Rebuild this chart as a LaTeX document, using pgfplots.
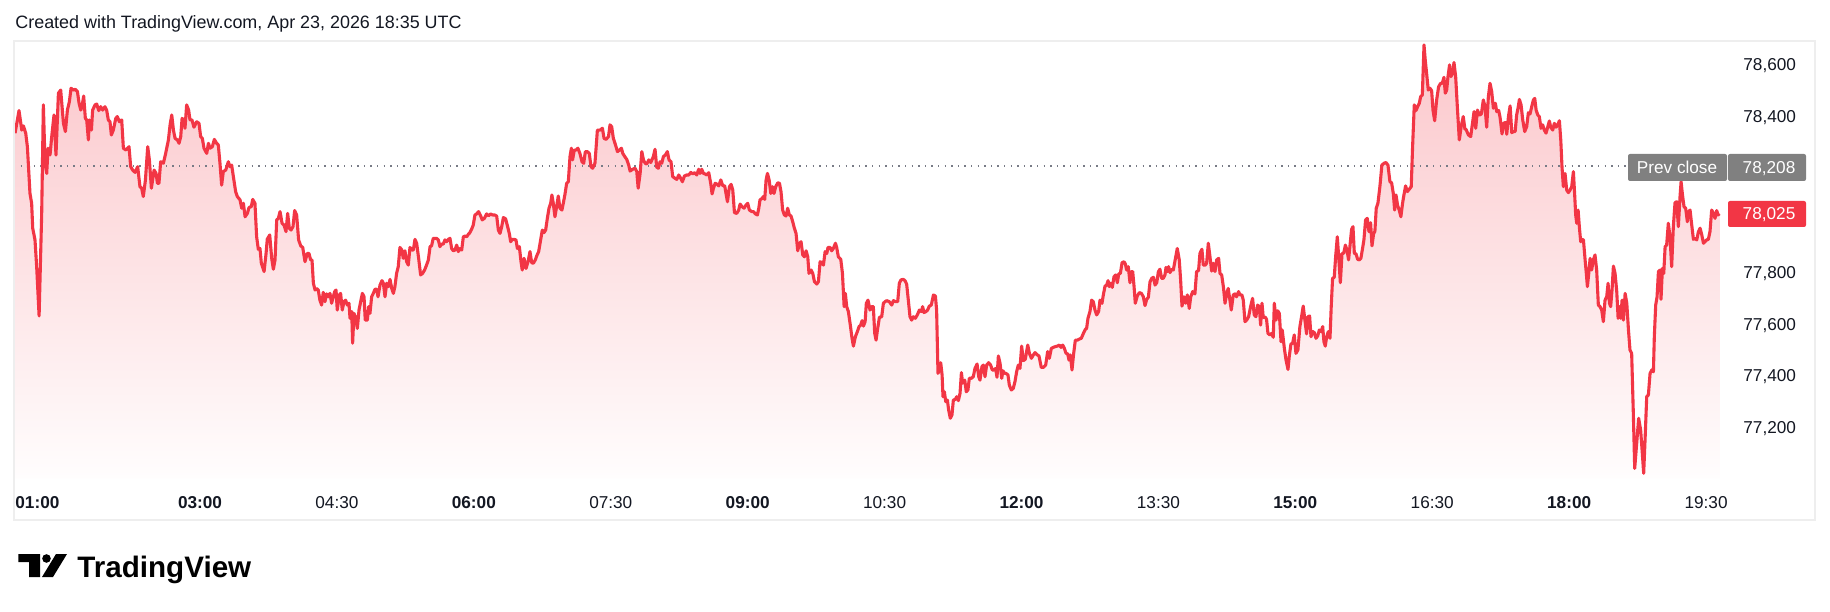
\documentclass[border=0pt]{standalone}
\usepackage{pgfplots}
\pgfplotsset{compat=1.18}
\usepackage{pgfplotstable}
\usepackage{fontspec}
\setmainfont{Liberation Sans}
\definecolor{tvred}{HTML}{F23645}
\definecolor{tvtext}{HTML}{131722}
\definecolor{tvframe}{HTML}{EEEEEE}
\definecolor{tvgray}{HTML}{808080}
\definecolor{tvdot}{HTML}{787B86}

\pgfplotstableread[row sep=\\]{
m v\\
58.4 78335\\ 61.0 78422\\ 62.8 78347\\ 63.9 78363\\ 65.4 78335\\ 66.5 78283\\ 68.2 78103\\ 69.3 78065\\ 70.0 77969\\ 71.5 77924\\
72.6 77821\\ 74.2 77631\\ 75.9 78026\\ 77.0 78444\\ 78.1 78219\\ 79.2 78180\\ 80.1 78277\\ 81.4 78251\\ 82.5 78322\\ 84.0 78405\\
85.3 78251\\ 86.9 78489\\ 88.4 78501\\ 90.2 78373\\ 91.5 78341\\ 92.8 78424\\ 94.1 78456\\ 95.2 78508\\ 96.7 78501\\ 98.0 78504\\
99.4 78495\\ 100.5 78450\\ 101.6 78424\\ 102.4 78437\\ 103.5 78478\\ 104.6 78392\\ 105.5 78386\\ 106.6 78309\\ 107.2 78386\\ 108.6 78347\\
109.4 78424\\ 111.0 78444\\ 112.1 78447\\ 113.4 78422\\ 114.7 78437\\ 116.0 78424\\ 117.5 78437\\ 118.6 78424\\ 119.7 78386\\ 120.8 78379\\
121.7 78328\\ 123.0 78347\\ 124.6 78392\\ 125.6 78399\\ 127.0 78379\\ 128.5 78386\\ 129.6 78277\\ 131.3 78270\\ 133.3 78283\\ 134.4 78206\\
135.7 78193\\ 137.3 78184\\ 139.0 78206\\ 140.5 78129\\ 141.6 78123\\ 142.7 78091\\ 144.1 78155\\ 145.6 78283\\ 146.7 78232\\ 148.0 78123\\
149.8 78193\\ 151.1 78180\\ 152.0 78142\\ 153.0 78142\\ 154.1 78225\\ 155.9 78219\\ 157.4 78257\\ 159.2 78309\\ 160.3 78367\\ 161.4 78405\\
162.5 78347\\ 163.6 78315\\ 165.1 78309\\ 166.2 78296\\ 167.3 78322\\ 168.2 78392\\ 169.3 78386\\ 170.1 78354\\ 171.2 78444\\ 172.5 78424\\
173.4 78386\\ 174.7 78386\\ 176.0 78358\\ 177.8 78379\\ 179.3 78373\\ 180.4 78322\\ 181.5 78315\\ 182.6 78277\\ 184.4 78257\\ 185.5 78296\\
186.6 78277\\ 188.1 78283\\ 189.4 78311\\ 190.9 78296\\ 192.0 78290\\ 193.1 78219\\ 194.2 78135\\ 195.3 78187\\ 196.9 78193\\ 198.6 78225\\
199.7 78206\\ 200.8 78212\\ 201.9 78168\\ 203.4 78110\\ 204.5 78091\\ 206.3 78078\\ 207.4 78046\\ 208.5 78065\\ 209.6 78013\\ 211.1 78026\\
212.2 78049\\ 213.7 78052\\ 214.6 78080\\ 216.1 78065\\ 217.2 77936\\ 218.3 77888\\ 219.4 77891\\ 220.3 77834\\ 222.1 77802\\ 223.4 77872\\
224.2 77927\\ 225.8 77943\\ 227.1 77853\\ 228.2 77811\\ 229.3 77847\\ 230.4 78001\\ 231.5 78007\\ 232.6 78033\\ 233.9 77988\\ 235.2 77981\\
236.5 77956\\ 237.6 78026\\ 238.7 77969\\ 239.8 77962\\ 241.1 77975\\ 242.2 78037\\ 243.5 78020\\ 244.8 77924\\ 246.2 77901\\ 247.5 77895\\
249.0 77840\\ 250.5 77872\\ 251.6 77872\\ 252.7 77847\\ 253.6 77847\\ 254.5 77757\\ 255.6 77731\\ 256.7 77737\\ 257.7 77731\\ 258.8 77692\\
259.9 77673\\ 261.0 77722\\ 262.1 77686\\ 263.2 77716\\ 264.3 77705\\ 265.4 77718\\ 266.5 77680\\ 267.6 77705\\ 268.5 77725\\ 269.4 77731\\
270.2 77654\\ 271.6 77712\\ 272.4 77718\\ 273.5 77654\\ 274.6 77686\\ 275.7 77692\\ 276.8 77673\\ 277.9 77680\\ 278.6 77622\\ 279.7 77648\\
280.3 77526\\ 281.2 77641\\ 282.1 77628\\ 283.4 77583\\ 284.5 77654\\ 285.6 77686\\ 286.7 77718\\ 287.8 77705\\ 288.6 77615\\ 290.0 77615\\
290.8 77667\\ 291.7 77641\\ 292.8 77705\\ 293.9 77718\\ 295.0 77734\\ 296.1 77734\\ 297.0 77705\\ 298.3 77750\\ 299.6 77767\\ 300.5 77757\\
301.6 77705\\ 302.7 77757\\ 303.8 77744\\ 304.9 77772\\ 306.0 77737\\ 307.1 77718\\ 308.1 77744\\ 309.2 77795\\ 310.3 77821\\ 311.4 77895\\
312.7 77885\\ 313.6 77853\\ 314.7 77882\\ 315.8 77840\\ 316.9 77827\\ 318.0 77895\\ 319.3 77885\\ 320.2 77885\\ 321.3 77926\\ 322.4 77911\\
323.7 77853\\ 325.0 77789\\ 326.3 77795\\ 327.6 77808\\ 328.9 77827\\ 330.1 77847\\ 331.2 77898\\ 332.2 77901\\ 333.3 77930\\ 334.4 77930\\
335.5 77930\\ 336.6 77924\\ 337.7 77898\\ 338.8 77908\\ 339.9 77908\\ 341.0 77924\\ 342.1 77917\\ 343.2 77926\\ 344.3 77930\\ 345.4 77891\\
346.5 77882\\ 347.6 77885\\ 348.7 77904\\ 349.8 77879\\ 350.9 77891\\ 352.0 77885\\ 353.1 77936\\ 354.2 77939\\ 355.3 77936\\ 356.3 77945\\
357.4 77952\\ 358.5 77965\\ 359.6 77981\\ 360.7 78020\\ 361.8 78024\\ 363.1 78033\\ 364.5 78016\\ 365.5 78001\\ 366.9 78007\\ 368.4 78024\\
369.7 78017\\ 371.0 78024\\ 372.3 78020\\ 373.7 78020\\ 375.0 78016\\ 376.1 77962\\ 377.2 77949\\ 378.3 77975\\ 379.4 78010\\ 380.9 78005\\
382.2 77975\\ 383.3 77949\\ 384.2 77917\\ 385.3 77926\\ 386.4 77926\\ 387.7 77924\\ 388.6 77891\\ 389.9 77898\\ 391.0 77840\\ 391.8 77808\\
393.0 77853\\ 394.3 77814\\ 395.6 77840\\ 396.9 77879\\ 398.0 77836\\ 399.1 77834\\ 400.4 77847\\ 401.3 77862\\ 402.6 77879\\ 403.7 77917\\
405.0 77962\\ 406.1 77952\\ 407.2 77962\\ 408.3 78007\\ 409.4 78046\\ 410.5 78065\\ 411.3 78097\\ 412.2 78065\\ 413.3 78013\\ 414.4 78052\\
415.5 78093\\ 416.6 78046\\ 417.9 78039\\ 418.8 78065\\ 419.9 78100\\ 421.0 78142\\ 422.1 78148\\ 423.2 78245\\ 424.1 78277\\ 424.9 78232\\
426.0 78270\\ 427.1 78270\\ 428.4 78277\\ 429.7 78257\\ 431.1 78225\\ 432.2 78219\\ 433.3 78264\\ 434.6 78264\\ 435.9 78257\\ 437.0 78206\\
438.1 78200\\ 439.6 78219\\ 441.2 78347\\ 443.0 78347\\ 444.5 78354\\ 445.6 78315\\ 446.9 78311\\ 448.5 78322\\ 449.5 78367\\ 450.6 78360\\
451.7 78315\\ 453.1 78290\\ 454.4 78264\\ 455.7 78270\\ 457.0 78277\\ 457.9 78257\\ 459.2 78245\\ 460.5 78234\\ 461.8 78212\\ 462.7 78189\\
464.4 78196\\ 466.0 78200\\ 467.1 78187\\ 468.0 78123\\ 469.3 78180\\ 470.4 78264\\ 471.5 78232\\ 472.6 78219\\ 473.6 78216\\ 475.0 78232\\
476.3 78222\\ 478.0 78245\\ 479.1 78273\\ 480.2 78204\\ 481.3 78200\\ 482.4 78225\\ 483.5 78219\\ 484.6 78245\\ 485.9 78251\\ 487.2 78264\\
488.3 78232\\ 489.6 78225\\ 490.7 78168\\ 492.3 78161\\ 493.4 78157\\ 494.7 78174\\ 496.0 78161\\ 497.1 78148\\ 498.4 78170\\ 499.9 78174\\
501.3 78174\\ 502.6 78184\\ 503.9 78178\\ 505.2 78183\\ 506.5 78174\\ 507.8 78196\\ 508.7 78180\\ 509.8 78196\\ 510.9 78180\\ 512.0 78178\\
513.1 78174\\ 514.4 78183\\ 515.7 78142\\ 516.6 78101\\ 517.5 78123\\ 518.6 78142\\ 519.7 78139\\ 521.0 78132\\ 522.3 78155\\ 523.6 78133\\
524.9 78132\\ 525.8 78101\\ 526.7 78071\\ 528.0 78129\\ 529.1 78138\\ 530.2 78116\\ 531.3 78029\\ 532.8 78026\\ 534.1 78039\\ 535.0 78062\\
536.3 78052\\ 537.6 78046\\ 538.9 78058\\ 540.0 78065\\ 541.1 78039\\ 542.7 78033\\ 543.8 78033\\ 545.1 78024\\ 546.4 78020\\ 547.3 78046\\
548.1 78078\\ 549.5 78084\\ 550.3 78091\\ 551.2 78080\\ 552.1 78155\\ 553.0 78180\\ 554.1 78155\\ 555.2 78103\\ 556.3 78129\\ 557.3 78103\\
558.4 78129\\ 559.8 78144\\ 560.9 78142\\ 561.9 78110\\ 563.0 78039\\ 564.1 78020\\ 565.2 78016\\ 566.3 78046\\ 567.4 78020\\ 568.5 78016\\
569.6 77994\\ 570.7 77969\\ 571.8 77949\\ 572.9 77882\\ 574.0 77911\\ 575.1 77917\\ 576.2 77866\\ 577.3 77859\\ 578.4 77882\\ 579.5 77859\\
580.3 77795\\ 581.7 77808\\ 582.8 77795\\ 583.9 77763\\ 585.4 77754\\ 586.5 77763\\ 587.6 77840\\ 588.9 77836\\ 589.8 77827\\ 590.9 77879\\
592.0 77872\\ 592.8 77895\\ 594.2 77895\\ 595.2 77882\\ 596.3 77891\\ 597.7 77911\\ 598.5 77895\\ 599.6 77859\\ 601.2 77849\\ 602.3 77795\\
603.4 77667\\ 604.2 77718\\ 605.1 77667\\ 606.2 77648\\ 607.3 77603\\ 608.6 77545\\ 609.5 77515\\ 610.8 77551\\ 612.1 77571\\ 613.2 77590\\
614.3 77596\\ 615.2 77613\\ 616.1 77592\\ 617.2 77609\\ 618.0 77680\\ 619.1 77692\\ 620.4 77654\\ 621.5 77667\\ 622.6 77667\\ 623.5 77564\\
624.4 77538\\ 625.3 77577\\ 626.6 77626\\ 628.1 77628\\ 629.2 77680\\ 630.3 77686\\ 631.4 77690\\ 633.1 77686\\ 634.7 77673\\ 635.8 77690\\
637.3 77686\\ 638.6 77686\\ 639.7 77757\\ 640.8 77770\\ 642.3 77772\\ 643.4 77767\\ 644.5 77754\\ 645.6 77692\\ 646.7 77628\\ 647.8 77615\\
648.9 77628\\ 650.2 77622\\ 651.5 77635\\ 652.9 77654\\ 654.2 77648\\ 655.0 77667\\ 655.9 77644\\ 657.2 77648\\ 658.3 77654\\ 659.4 77669\\
660.7 77673\\ 662.1 77712\\ 663.4 77708\\ 664.2 77654\\ 665.1 77410\\ 666.0 77423\\ 666.9 77451\\ 667.8 77404\\ 668.4 77320\\ 669.3 77339\\
670.2 77301\\ 671.3 77307\\ 672.1 77269\\ 673.2 77237\\ 674.3 77250\\ 675.2 77307\\ 676.5 77310\\ 677.4 77320\\ 678.5 77305\\ 679.6 77333\\
680.5 77413\\ 681.3 77372\\ 682.7 77384\\ 683.7 77339\\ 684.8 77346\\ 685.7 77391\\ 687.0 77391\\ 688.3 77397\\ 689.4 77429\\ 690.8 77446\\
691.9 77397\\ 692.7 77384\\ 694.0 77436\\ 694.9 77442\\ 696.0 77397\\ 697.1 77442\\ 698.4 77451\\ 699.7 77442\\ 700.8 77423\\ 701.9 77423\\
703.0 77429\\ 703.9 77395\\ 704.8 77477\\ 705.9 77449\\ 707.0 77391\\ 707.8 77420\\ 708.9 77410\\ 709.8 77410\\ 711.1 77404\\ 712.0 77365\\
713.3 77346\\ 714.6 77352\\ 715.7 77378\\ 716.8 77416\\ 717.9 77442\\ 719.0 77429\\ 720.1 77515\\ 721.2 77459\\ 722.5 77464\\ 724.1 77519\\
725.2 77487\\ 726.5 77468\\ 727.8 77481\\ 728.9 77490\\ 730.4 77481\\ 731.5 77477\\ 733.0 77433\\ 734.4 77433\\ 735.9 77442\\ 737.2 77494\\
738.3 77468\\ 739.6 77506\\ 740.9 77510\\ 742.2 77513\\ 743.6 77515\\ 744.9 77519\\ 746.0 77510\\ 747.1 77519\\ 748.2 77506\\ 749.3 77487\\
750.4 77485\\ 751.2 77461\\ 752.1 77481\\ 753.2 77423\\ 754.3 77487\\ 755.4 77538\\ 756.7 77538\\ 758.0 77542\\ 759.3 77545\\ 760.7 77564\\
762.0 77580\\ 762.8 77583\\ 763.7 77622\\ 765.0 77648\\ 766.1 77692\\ 767.2 77686\\ 768.3 77654\\ 769.4 77635\\ 770.7 77648\\ 771.6 77692\\
772.9 77680\\ 773.8 77712\\ 774.9 77746\\ 776.0 77750\\ 776.9 77767\\ 777.7 77744\\ 778.6 77757\\ 779.7 77741\\ 780.8 77782\\ 781.9 77789\\
783.0 77759\\ 783.9 77793\\ 785.0 77795\\ 786.1 77836\\ 787.4 77840\\ 788.3 77831\\ 789.1 77808\\ 790.2 77821\\ 791.3 77759\\ 792.2 77802\\
793.1 77802\\ 794.0 77744\\ 794.8 77680\\ 796.1 77708\\ 797.5 77721\\ 798.8 77718\\ 800.1 77705\\ 801.2 77671\\ 802.3 77695\\ 803.4 77703\\
804.5 77763\\ 805.6 77776\\ 806.7 77780\\ 807.8 77750\\ 808.9 77759\\ 810.0 77802\\ 811.0 77811\\ 812.1 77776\\ 813.2 77776\\ 814.3 77789\\
815.0 77818\\ 815.9 77802\\ 816.7 77821\\ 817.6 77798\\ 818.7 77811\\ 819.8 77808\\ 822.4 77891\\ 823.7 77847\\ 824.6 77770\\ 825.5 77669\\
826.8 77705\\ 827.9 77680\\ 829.0 77712\\ 830.3 77660\\ 831.2 77703\\ 832.5 77725\\ 834.0 77716\\ 835.1 77802\\ 836.4 77806\\ 837.3 77872\\
838.6 77888\\ 839.5 77827\\ 840.8 77827\\ 841.7 77834\\ 842.8 77911\\ 843.9 77859\\ 845.0 77804\\ 846.1 77834\\ 847.2 77802\\ 848.3 77847\\
849.6 77853\\ 850.5 77795\\ 851.6 77789\\ 852.7 77744\\ 853.8 77680\\ 854.9 77718\\ 855.9 77737\\ 857.0 77692\\ 857.9 77654\\ 859.2 77712\\
860.3 77716\\ 861.4 77705\\ 862.7 77725\\ 863.6 77712\\ 864.9 77712\\ 865.8 77692\\ 866.9 77609\\ 868.0 77615\\ 869.3 77628\\ 870.6 77667\\
871.9 77699\\ 873.0 77635\\ 874.1 77628\\ 875.2 77673\\ 876.3 77667\\ 877.2 77596\\ 878.1 77680\\ 878.9 77626\\ 880.3 77626\\ 881.1 77618\\
882.0 77564\\ 883.3 77558\\ 884.4 77564\\ 885.5 77549\\ 886.2 77680\\ 887.3 77615\\ 888.4 77651\\ 889.5 77641\\ 890.6 77532\\ 891.4 77577\\
892.8 77506\\ 893.9 77461\\ 895.2 77425\\ 896.0 77474\\ 897.1 77523\\ 898.2 77526\\ 899.3 77558\\ 900.4 77487\\ 901.7 77500\\ 903.0 77590\\
904.1 77628\\ 905.2 77669\\ 906.3 77615\\ 907.4 77562\\ 908.3 77628\\ 909.4 77631\\ 910.3 77551\\ 911.4 77571\\ 912.5 77567\\ 913.6 77545\\
914.7 77554\\ 915.8 77577\\ 916.9 77571\\ 918.0 77590\\ 918.8 77532\\ 919.7 77515\\ 920.6 77551\\ 921.7 77571\\ 922.8 77545\\ 923.6 77667\\
924.5 77776\\ 925.6 77780\\ 926.5 77859\\ 927.6 77936\\ 928.5 77859\\ 929.6 77759\\ 930.7 77872\\ 931.8 77872\\ 932.9 77904\\ 934.0 77885\\
935.0 77847\\ 936.1 77911\\ 937.0 77965\\ 937.9 77975\\ 938.8 77872\\ 939.9 77870\\ 941.0 77849\\ 942.1 77847\\ 943.1 77853\\ 944.2 77891\\
945.1 77924\\ 946.2 78001\\ 947.3 78007\\ 948.4 77956\\ 949.5 77990\\ 950.4 77901\\ 951.5 77949\\ 952.3 77956\\ 953.2 78046\\ 954.3 78065\\
955.6 78129\\ 956.9 78212\\ 958.3 78219\\ 959.6 78222\\ 960.9 78212\\ 962.2 78148\\ 963.3 78144\\ 964.4 78103\\ 965.3 78039\\ 966.2 78097\\
967.2 78058\\ 968.3 78039\\ 969.4 78013\\ 970.5 78065\\ 971.4 78097\\ 972.5 78132\\ 973.6 78110\\ 974.9 78119\\ 976.2 78129\\ 977.1 78283\\
978.2 78444\\ 979.3 78422\\ 980.4 78437\\ 981.5 78450\\ 982.4 78476\\ 983.5 78482\\ 984.6 78675\\ 985.4 78617\\ 986.3 78566\\ 987.4 78501\\
988.5 78508\\ 989.6 78499\\ 990.5 78424\\ 991.6 78383\\ 992.9 78463\\ 994.2 78514\\ 995.5 78527\\ 996.6 78527\\ 997.7 78550\\ 998.6 78489\\
999.5 78501\\ 1000.3 78550\\ 1001.4 78598\\ 1002.3 78553\\ 1003.4 78566\\ 1004.3 78607\\ 1005.4 78553\\ 1006.5 78437\\ 1007.8 78309\\ 1009.1 78363\\
1010.4 78399\\ 1011.5 78350\\ 1012.2 78350\\ 1013.8 78328\\ 1015.3 78322\\ 1016.6 78379\\ 1017.5 78418\\ 1018.6 78354\\ 1019.7 78424\\ 1021.0 78405\\
1022.3 78409\\ 1023.6 78463\\ 1024.7 78437\\ 1025.8 78358\\ 1026.9 78476\\ 1028.0 78527\\ 1029.1 78495\\ 1030.2 78431\\ 1031.5 78450\\ 1032.4 78418\\
1033.7 78422\\ 1034.6 78396\\ 1035.9 78332\\ 1036.8 78373\\ 1038.1 78376\\ 1039.0 78331\\ 1040.1 78399\\ 1041.2 78440\\ 1042.3 78337\\ 1043.4 78341\\
1044.5 78341\\ 1045.5 78405\\ 1046.4 78431\\ 1047.3 78465\\ 1048.4 78444\\ 1049.5 78386\\ 1050.8 78341\\ 1052.1 78360\\ 1053.2 78414\\ 1054.3 78409\\
1055.4 78437\\ 1056.5 78463\\ 1057.4 78469\\ 1058.3 78424\\ 1059.4 78405\\ 1060.4 78399\\ 1061.5 78354\\ 1062.6 78367\\ 1063.7 78347\\ 1064.8 78335\\
1065.7 78354\\ 1067.0 78382\\ 1067.9 78358\\ 1069.2 78347\\ 1070.3 78373\\ 1071.4 78358\\ 1072.5 78367\\ 1073.6 78383\\ 1074.5 78309\\ 1075.3 78206\\
1076.2 78129\\ 1077.3 78180\\ 1078.4 78116\\ 1079.5 78106\\ 1080.6 78116\\ 1081.7 78129\\ 1082.8 78187\\ 1083.7 78091\\ 1084.3 78020\\ 1085.0 77988\\
1085.9 78039\\ 1086.7 77975\\ 1087.6 77917\\ 1088.5 77926\\ 1089.4 77924\\ 1090.5 77847\\ 1091.3 77795\\ 1092.0 77744\\ 1092.9 77795\\ 1093.8 77853\\
1094.8 77808\\ 1095.9 77847\\ 1097.0 77866\\ 1098.1 77808\\ 1099.2 77673\\ 1100.3 77667\\ 1101.4 77654\\ 1102.5 77609\\ 1103.6 77692\\ 1104.7 77705\\
1105.6 77757\\ 1106.5 77680\\ 1107.3 77667\\ 1108.2 77731\\ 1109.1 77823\\ 1110.2 77795\\ 1111.3 77725\\ 1112.2 77622\\ 1113.0 77667\\ 1113.9 77622\\
1114.8 77692\\ 1115.7 77615\\ 1116.8 77718\\ 1117.9 77680\\ 1119.0 77577\\ 1120.0 77500\\ 1121.1 77487\\ 1122.2 77256\\ 1123.1 77044\\ 1124.4 77140\\
1125.7 77237\\ 1127.0 77192\\ 1128.1 77102\\ 1129.0 77025\\ 1129.9 77153\\ 1131.0 77320\\ 1132.1 77327\\ 1133.2 77410\\ 1134.3 77423\\ 1135.4 77416\\
1136.0 77551\\ 1136.9 77673\\ 1137.8 77705\\ 1138.7 77802\\ 1139.8 77808\\ 1140.4 77695\\ 1141.3 77814\\ 1142.2 77795\\ 1143.1 77898\\ 1144.1 77904\\
1145.2 77988\\ 1146.3 77936\\ 1147.4 77821\\ 1148.5 77975\\ 1149.6 78067\\ 1150.7 78071\\ 1151.8 77975\\ 1152.9 78091\\ 1153.6 78148\\ 1154.4 78103\\
1155.5 78052\\ 1156.6 78046\\ 1157.7 77994\\ 1158.6 78033\\ 1159.5 78039\\ 1160.6 77981\\ 1161.7 77926\\ 1162.8 77930\\ 1163.9 77924\\ 1165.0 77956\\
1166.1 77969\\ 1167.2 77943\\ 1168.3 77911\\ 1169.3 77917\\ 1170.4 77924\\ 1171.5 77926\\ 1172.6 77956\\ 1173.7 78039\\ 1174.8 78026\\ 1175.9 78007\\
1177.0 78037\\ 1177.9 78020\\ 1178.8 78025\\
}\pricedata

\begin{document}
\begin{tikzpicture}
\fill[white] (0,0) rectangle (915pt,305.5pt);
\path[use as bounding box] (0,0) rectangle (915pt,305.5pt);
\begin{axis}[
  at={(7pt,66.5pt)}, anchor=south west,
  scale only axis, width=854pt, height=218.5pt,
  xmin=57.7, xmax=1180.5, ymin=77007, ymax=78690,
  scaled y ticks=false, scaled x ticks=false,
  axis line style={draw=none},
  tick style={draw=none},
  major tick length=0pt,
  xtick={180,270,360,450,540,630,720,810,900,990,1080,1170},
  xticklabels={\textbf{03:00},04:30,\textbf{06:00},07:30,\textbf{09:00},10:30,\textbf{12:00},13:30,\textbf{15:00},16:30,\textbf{18:00},19:30},
  extra x ticks={60},
  extra x tick labels={\textbf{01:00}},
  extra x tick style={xticklabel style={anchor=base west, xshift=-1.25pt}},
  xticklabel style={anchor=base, yshift=-15pt, inner sep=0pt, font=\fontsize{8.6}{10}\selectfont, text=tvtext},
  ytick={77200,77400,77600,77800,78400,78600},
  yticklabels={{77,200},{77,400},{77,600},{77,800},{78,400},{78,600}},
  yticklabel pos=right,
  yticklabel style={anchor=base west, xshift=10.5pt, yshift=-3pt, inner sep=0pt, font=\fontsize{8.6}{10}\selectfont, text=tvtext},
]
\addplot[draw=none, top color=tvred!28!white, bottom color=tvred!1!white] table[x=m,y=v]{\pricedata} -- (axis cs:1178.8,77007) -- (axis cs:58.4,77007) -- cycle;
\addplot[tvdot, line width=0.7pt, dash pattern=on 0.7pt off 2.6pt] coordinates {(57.7,78208) (1180.5,78208)};
\addplot[tvred, line width=1.55pt, line join=round] table[x=m,y=v]{\pricedata};
\end{axis}
\begin{scope}[x=0.5pt,y=-0.5pt,yshift=305.5pt]
  \draw[tvframe, line width=1pt] (14,41) rectangle (1815,520);
  \node[anchor=base west, inner sep=0pt, text=tvtext, font=\fontsize{8.96}{11}\selectfont] at (15,29) {Created with TradingView.com, Apr 23, 2026 18:35 UTC};
  % prev close label
  \fill[tvgray, rounded corners=1pt] (1628,154) rectangle (1727,181);
  \fill[tvgray, rounded corners=1pt] (1728,154) rectangle (1806,181);
  \node[anchor=base, inner sep=0pt, text=white, font=\fontsize{8.6}{10}\selectfont] at (1677,173.5) {Prev close};
  \node[anchor=base, inner sep=0pt, text=white, font=\fontsize{8.6}{10}\selectfont] at (1769,173.5) {78,208};
  % last price label
  \fill[tvred, rounded corners=1pt] (1728,201) rectangle (1806,227);
  \node[anchor=base, inner sep=0pt, text=white, font=\fontsize{8.6}{10}\selectfont] at (1769,220) {78,025};
  % logo
  \fill[black] (18.3,554) -- (40,554) -- (40,577) -- (29,577) -- (29,562) -- (18.3,562) -- cycle;
  \fill[black] (46.5,558.5) circle[radius=2.15pt];
  \fill[black] (56,554) -- (67,554) -- (53,577) -- (42,577) -- cycle;
  \node[anchor=base west, inner sep=0pt, text=black, font=\fontsize{14.8}{17}\selectfont\bfseries] at (77,577) {TradingView};
\end{scope}
\end{tikzpicture}
\end{document}
